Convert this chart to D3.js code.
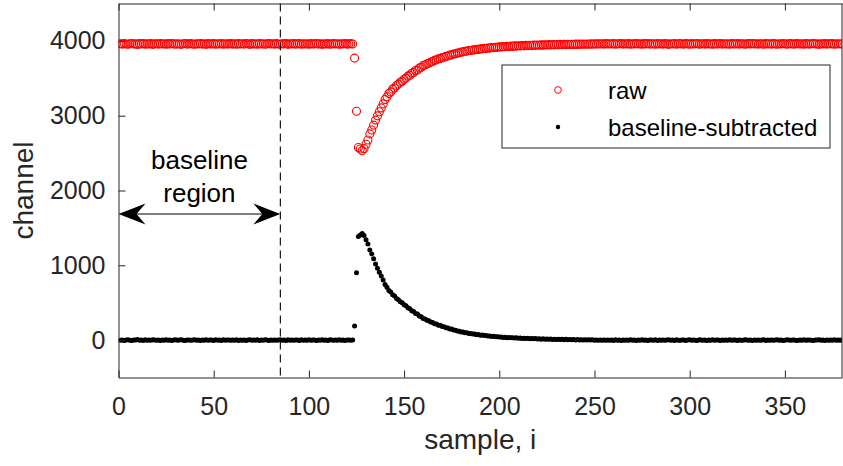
<!DOCTYPE html>
<html>
<head>
<meta charset="utf-8">
<script src="https://cdn.jsdelivr.net/npm/d3@7"></script>
<style>
  body { margin: 0; background: #fff; }
  text { font-family: "Liberation Sans", Arial, Helvetica, sans-serif; }
</style>
</head>
<body>
<div id="chart"></div>
<script>
// raw channel readings, sample 1..380
const raw = [
  3961,3957,3964,3959,3955,3962,3966,3958,3960,3953,3963,3959,3965,3956,3961,3958,3963,3954,3960,3962,
  3957,3964,3959,3961,3955,3963,3958,3966,3960,3956,3962,3959,3954,3961,3965,3957,3960,3963,3958,3955,
  3962,3959,3966,3957,3961,3954,3963,3960,3958,3964,3956,3961,3959,3965,3955,3962,3958,3960,3963,3957,
  3961,3955,3964,3959,3962,3957,3966,3960,3954,3963,3958,3961,3956,3964,3959,3962,3955,3960,3965,3958,
  3961,3957,3963,3959,3956,3962,3960,3965,3954,3961,3958,3963,3957,3960,3964,3955,3962,3959,3961,3956,
  3963,3958,3960,3965,3957,3961,3954,3962,3959,3964,3956,3960,3963,3958,3961,3955,3962,3959,3965,3957,
  3960,3963,3958,3770,3060,2575,2555,2535,2560,2618,2676,2757,2808,2874,2941,2998,3052,3104,3158,3216,
  3252,3296,3318,3355,3371,3404,3422,3448,3461,3488,3502,3529,3541,3568,3577,3604,3611,3638,3647,3672,
  3678,3695,3702,3718,3725,3741,3746,3760,3763,3778,3782,3795,3798,3811,3813,3825,3828,3839,3841,3852,
  3853,3862,3863,3871,3872,3879,3880,3887,3886,3894,3893,3900,3899,3906,3904,3911,3909,3916,3914,3920,
  3918,3924,3921,3927,3924,3930,3927,3933,3930,3936,3932,3938,3934,3940,3936,3942,3938,3943,3940,3945,
  3942,3947,3943,3948,3945,3950,3946,3951,3947,3952,3948,3953,3949,3954,3950,3955,3951,3955,3952,3957,
  3953,3957,3954,3958,3955,3959,3955,3960,3956,3961,3957,3961,3958,3962,3957,3963,3958,3962,3959,3964,
  3956,3962,3960,3965,3957,3961,3959,3963,3955,3962,3960,3964,3958,3961,3956,3963,3959,3966,3957,3960,
  3962,3955,3964,3959,3961,3957,3963,3960,3954,3962,3958,3965,3956,3961,3963,3959,3957,3964,3960,3955,
  3963,3958,3961,3966,3956,3960,3962,3957,3964,3959,3961,3955,3963,3958,3960,3965,3957,3962,3959,3961,
  3956,3963,3960,3958,3964,3957,3961,3962,3955,3960,3963,3958,3966,3959,3961,3957,3962,3960,3956,3964,
  3959,3961,3957,3963,3960,3955,3962,3958,3965,3961,3956,3960,3963,3959,3957,3964,3961,3958,3962,3956,
  3963,3960,3957,3961,3965,3958,3960,3954,3962,3959,3964,3957,3961,3960,3963,3956,3962,3959,3961,3958
];

// baseline-subtracted readings, sample 1..380
const subtracted = [
  -1,3,-4,1,5,-2,-6,2,0,7,-3,1,-5,4,-1,2,-3,6,0,-2,
  3,-4,1,-1,5,-3,2,-6,0,4,-2,1,6,-1,-5,3,0,-3,2,5,
  -2,1,-6,3,-1,6,-3,0,2,-4,4,-1,1,-5,5,-2,2,0,-3,3,
  -1,5,-4,1,-2,3,-6,0,6,-3,2,-1,4,-4,1,-2,5,0,-5,2,
  -1,3,-3,1,4,-2,0,-5,6,-1,2,-3,3,0,-4,5,-2,1,-1,4,
  -3,2,0,-5,3,-1,6,-2,1,-4,4,0,-3,2,-1,5,-2,1,-5,3,
  0,-3,2,190,900,1385,1405,1425,1400,1342,1284,1203,1152,1086,1019,962,908,856,802,744,
  708,664,642,605,589,556,538,512,499,472,458,431,419,392,383,356,349,322,313,288,
  282,265,258,242,235,219,214,200,197,182,178,165,162,149,147,135,132,121,119,108,
  107,98,97,89,88,81,80,73,74,66,67,60,61,54,56,49,51,44,46,40,
  42,36,39,33,36,30,33,27,30,24,28,22,26,20,24,18,22,17,20,15,
  18,13,17,12,15,10,14,9,13,8,12,7,11,6,10,5,9,5,8,3,
  7,3,6,2,5,1,5,0,4,-1,3,-1,2,-2,3,-3,2,-2,1,-4,
  4,-2,0,-5,3,-1,1,-3,5,-2,0,-4,2,-1,4,-3,1,-6,3,0,
  -2,5,-4,1,-1,3,-3,0,6,-2,2,-5,4,-1,-3,1,3,-4,0,5,
  -3,2,-1,-6,4,0,-2,3,-4,1,-1,5,-3,2,0,-5,3,-2,1,-1,
  4,-3,0,2,-4,3,-1,-2,5,0,-3,2,-6,1,-1,3,-2,0,4,-4,
  1,-1,3,-3,0,5,-2,2,-5,-1,4,0,-3,1,3,-4,-1,2,-2,4,
  -3,0,3,-1,-5,2,0,6,-2,1,-4,3,-1,0,-3,4,-2,1,-1,2
];

const xTicks = [0, 50, 100, 150, 200, 250, 300, 350];
const yTicks = [0, 1000, 2000, 3000, 4000];
const baselineEnd = 85;
const seriesNames = ["raw", "baseline-subtracted"];

const W = 843, H = 466;
const margin = { top: 3.5, right: 1, bottom: 88.5, left: 118.5 };
const width = W - margin.left - margin.right;
const height = H - margin.top - margin.bottom;
const axisColor = "#262626";

const svg = d3.select("#chart").append("svg")
  .attr("width", W)
  .attr("height", H);

const g = svg.append("g")
  .attr("transform", "translate(" + margin.left + "," + margin.top + ")");

const x = d3.scaleLinear().domain([0, 380]).range([0, width]);
const y = d3.scaleLinear().domain([-500, 4500]).range([height, 0]);

// data points
const rawPts = raw.map((v, i) => ({ i: i + 1, v: v }));
const subPts = subtracted.map((v, i) => ({ i: i + 1, v: v }));

g.append("clipPath").attr("id", "clip")
  .append("rect").attr("width", width).attr("height", height);

const plot = g.append("g").attr("clip-path", "url(#clip)");

plot.append("g").selectAll("circle")
  .data(rawPts)
  .enter().append("circle")
  .attr("cx", d => x(d.i))
  .attr("cy", d => y(d.v))
  .attr("r", 4)
  .attr("fill", "none")
  .attr("stroke", "#ff0000")
  .attr("stroke-width", 1.1);

plot.append("g").selectAll("circle")
  .data(subPts)
  .enter().append("circle")
  .attr("cx", d => x(d.i))
  .attr("cy", d => y(d.v))
  .attr("r", 2.5)
  .attr("fill", "#000");

// dashed line marking end of baseline region
g.append("line")
  .attr("x1", x(baselineEnd)).attr("x2", x(baselineEnd))
  .attr("y1", 0).attr("y2", height)
  .attr("stroke", "#000")
  .attr("stroke-width", 1.1)
  .attr("stroke-dasharray", "8,5");

// axes
const xAxis = g.append("g")
  .attr("transform", "translate(0," + height + ")")
  .call(d3.axisBottom(x).tickValues(xTicks).tickSize(-7).tickPadding(20).tickSizeOuter(0));
const yAxis = g.append("g")
  .call(d3.axisLeft(y).tickValues(yTicks).tickFormat(d3.format("d"))
    .tickSize(-7).tickPadding(13).tickSizeOuter(0));
const xTop = g.append("g")
  .call(d3.axisTop(x).tickValues(xTicks).tickSize(-7).tickFormat("").tickSizeOuter(0));

[xAxis, yAxis, xTop].forEach(a => {
  a.select(".domain").attr("stroke", axisColor);
  a.selectAll(".tick line").attr("stroke", axisColor);
  a.selectAll("text")
    .attr("fill", axisColor)
    .style("font-size", "25px");
});
g.append("line")
  .attr("x1", width).attr("x2", width).attr("y1", 0).attr("y2", height)
  .attr("stroke", axisColor);

// axis labels
g.append("text")
  .attr("x", width / 2)
  .attr("y", height + 71)
  .attr("text-anchor", "middle")
  .attr("fill", axisColor)
  .style("font-size", "28px")
  .text("sample, i");

g.append("text")
  .attr("transform", "rotate(-90)")
  .attr("x", -height / 2)
  .attr("y", -86)
  .attr("text-anchor", "middle")
  .attr("fill", axisColor)
  .style("font-size", "28px")
  .text("channel");

// baseline region annotation
const midX = (x(0) + x(baselineEnd)) / 2;
g.append("text")
  .attr("x", midX).attr("y", 165)
  .attr("text-anchor", "middle")
  .style("font-size", "26px")
  .text("baseline");
g.append("text")
  .attr("x", midX).attr("y", 198)
  .attr("text-anchor", "middle")
  .style("font-size", "26px")
  .text("region");

const arrowY = 210.5;
g.append("line")
  .attr("x1", x(0) + 10).attr("x2", x(baselineEnd) - 10)
  .attr("y1", arrowY).attr("y2", arrowY)
  .attr("stroke", "#000").attr("stroke-width", 1.2);
const head = (tipX, dir) => {
  const L = 27, h = 10.5, n = 18;
  return "M" + tipX + "," + arrowY +
    "L" + (tipX + dir * L) + "," + (arrowY - h) +
    "L" + (tipX + dir * n) + "," + arrowY +
    "L" + (tipX + dir * L) + "," + (arrowY + h) + "Z";
};
g.append("path").attr("d", head(x(0), 1)).attr("fill", "#000");
g.append("path").attr("d", head(x(baselineEnd), -1)).attr("fill", "#000");

// legend
const legend = svg.append("g").attr("transform", "translate(502,65)");
legend.append("rect")
  .attr("width", 328).attr("height", 83)
  .attr("fill", "#fff")
  .attr("stroke", axisColor)
  .attr("stroke-width", 1);
legend.append("circle")
  .attr("cx", 56).attr("cy", 25).attr("r", 3.3)
  .attr("fill", "none").attr("stroke", "#ff0000").attr("stroke-width", 1);
legend.append("circle")
  .attr("cx", 56).attr("cy", 62).attr("r", 2.2)
  .attr("fill", "#000");
legend.selectAll("text.lab")
  .data(seriesNames)
  .enter().append("text")
  .attr("class", "lab")
  .attr("x", 106)
  .attr("y", (d, i) => 34 + i * 37)
  .style("font-size", "24px")
  .attr("fill", "#000")
  .text(d => d);
</script>
</body>
</html>
